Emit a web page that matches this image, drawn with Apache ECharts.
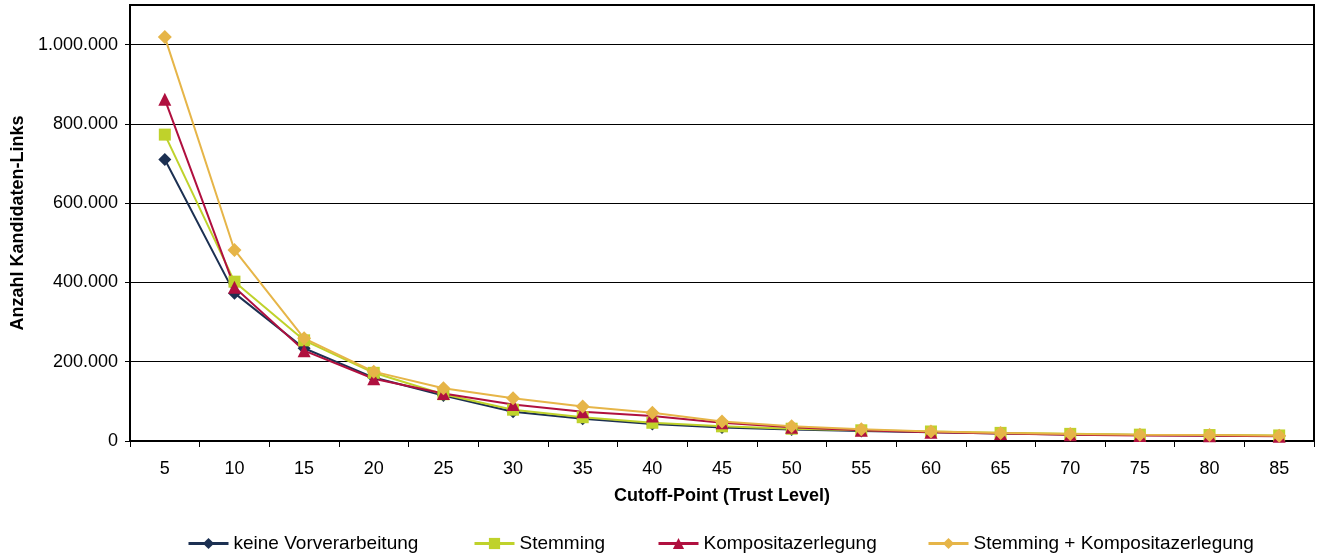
<!DOCTYPE html>
<html>
<head>
<meta charset="utf-8">
<script src="https://cdn.jsdelivr.net/npm/echarts@6/dist/echarts.min.js"></script>
<style>
  html, body { margin: 0; padding: 0; background: #fff; }
  #chart { width: 1319px; height: 554px; }
</style>
</head>
<body>
<div id="chart"></div>
<script>
// Cutoff points (trust level) on the x axis
const categories = ['5', '10', '15', '20', '25', '30', '35', '40', '45', '50', '55', '60', '65', '70', '75', '80', '85'];

// Number of candidate links per preprocessing variant
const keineVorverarbeitung = [710000, 373000, 234000, 160000, 115000, 74000, 56000, 43000, 34000, 29000, 25000, 22000, 19000, 16500, 15000, 14000, 12500];
const stemming = [773000, 402000, 254000, 172000, 118000, 79000, 60000, 46000, 37000, 31000, 27000, 24000, 20500, 18000, 16000, 15000, 14000];
const kompositazerlegung = [862000, 388000, 228000, 157000, 120000, 92000, 74000, 63000, 46000, 35000, 27000, 22000, 19000, 16000, 14000, 13000, 12000];
const stemmingKomposita = [1019000, 482000, 259000, 175000, 133000, 108000, 87000, 71000, 49000, 37000, 29500, 24000, 20000, 17500, 16000, 15000, 13500];

const seriesNames = ['keine Vorverarbeitung', 'Stemming', 'Kompositazerlegung', 'Stemming + Kompositazerlegung'];

const FONT = '"Liberation Sans", Arial, sans-serif';

// German thousands separator
function fmt(v) {
  return String(Math.round(v)).replace(/\B(?=(\d{3})+(?!\d))/g, '.');
}

function lineSeries(name, data, color, symbol, size) {
  return {
    name: name,
    type: 'line',
    data: data,
    symbol: symbol,
    symbolSize: size,
    showSymbol: true,
    lineStyle: { color: color, width: 2 },
    itemStyle: { color: color },
    emphasis: { disabled: true },
    animation: false
  };
}

function legendAt(left, name) {
  return {
    data: [name],
    left: left,
    top: 529,
    itemWidth: 40,
    itemHeight: 14,
    itemGap: 0,
    lineStyle: { width: 3 },
    textStyle: { fontFamily: FONT, fontSize: 19, color: '#000' }
  };
}

const chart = echarts.init(document.getElementById('chart'), null, { renderer: 'canvas' });
chart.setOption({
  backgroundColor: '#fff',
  grid: {
    left: 130, right: 5, top: 5, bottom: 113,
    show: true, borderColor: '#000', borderWidth: 2
  },
  legend: [
    legendAt(182, seriesNames[0]),
    legendAt(468, seriesNames[1]),
    legendAt(652, seriesNames[2]),
    legendAt(922, seriesNames[3])
  ],
  xAxis: {
    type: 'category',
    data: categories,
    boundaryGap: true,
    name: 'Cutoff-Point (Trust Level)',
    nameLocation: 'middle',
    nameGap: 46,
    nameTextStyle: { fontFamily: FONT, fontSize: 18, fontWeight: 'bold', color: '#000' },
    axisLine: { lineStyle: { color: '#000', width: 2 } },
    axisTick: { show: true, interval: 0, alignWithLabel: false, length: 6, lineStyle: { color: '#000' } },
    axisLabel: { interval: 0, margin: 19, fontFamily: FONT, fontSize: 18, color: '#000' },
    splitLine: { show: false }
  },
  yAxis: {
    type: 'value',
    min: 0,
    max: 1100000,
    interval: 200000,
    name: 'Anzahl Kandidaten-Links',
    nameLocation: 'middle',
    nameGap: 103,
    nameRotate: 90,
    nameTextStyle: { fontFamily: FONT, fontSize: 18, fontWeight: 'bold', color: '#000' },
    axisLine: { show: true, lineStyle: { color: '#000', width: 2 } },
    axisTick: { show: true, length: 5, lineStyle: { color: '#000' } },
    axisLabel: { margin: 12, showMaxLabel: false, fontFamily: FONT, fontSize: 18, color: '#000', formatter: fmt },
    splitLine: { show: true, lineStyle: { color: '#000', width: 1 } }
  },
  series: [
    lineSeries(seriesNames[0], keineVorverarbeitung, '#1C3052', 'diamond', 13),
    lineSeries(seriesNames[1], stemming, '#BFD22B', 'rect', 12),
    lineSeries(seriesNames[2], kompositazerlegung, '#B0103F', 'triangle', 13),
    lineSeries(seriesNames[3], stemmingKomposita, '#E6B548', 'diamond', 14)
  ]
});
</script>
</body>
</html>
